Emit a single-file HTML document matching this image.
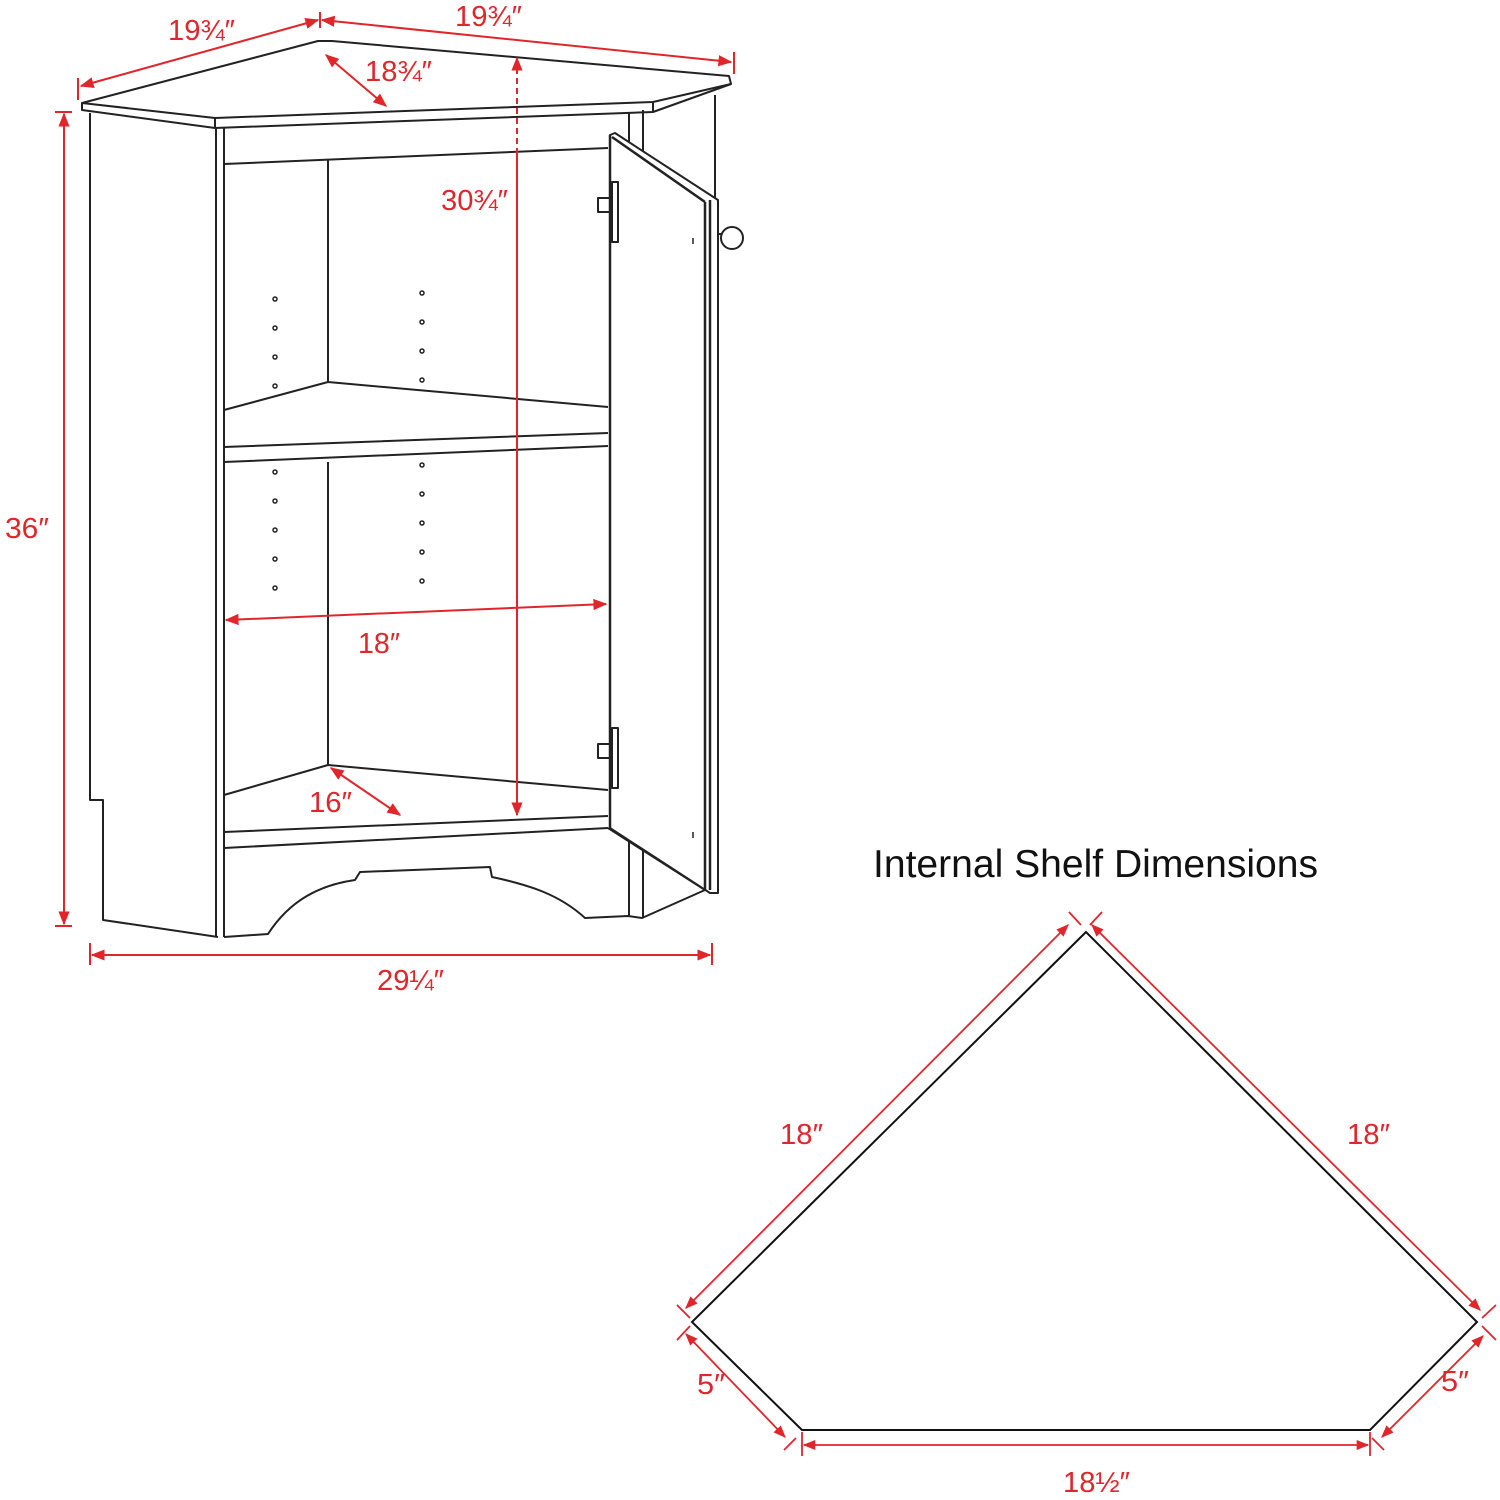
<!DOCTYPE html>
<html><head><meta charset="utf-8"><style>
html,body{margin:0;padding:0;background:#fff;}
svg{display:block}
text{font-family:"Liberation Sans Narrow","Liberation Sans",sans-serif;fill:#e0262b;}
</style></head><body>
<svg width="1500" height="1500" viewBox="0 0 1500 1500" xmlns="http://www.w3.org/2000/svg">
<defs>
<marker id="a" viewBox="0 0 10 10" refX="9" refY="5" markerWidth="7" markerHeight="7" orient="auto-start-reverse"><path d="M0,1 L10,5 L0,9 z" fill="#e0262b"/></marker>
</defs>
<g fill="none" stroke="#222" stroke-width="2" stroke-linejoin="round">
<!-- top -->
<path d="M82,103 L318,41 L332,41 L729,76 L731,84 L653,102 L215,118 Z" fill="#fff"/>
<path d="M82,103 L82,110 L215,128 L653,112 L731,84"/>
<path d="M215,118 L215,128 M653,102 L653,112"/>
<!-- left side -->
<path d="M90,113 L90,800 L103,800 L103,920 L218,937"/>
<path d="M216,128 L216,937 M224,128 L224,937"/>
<!-- top rail -->
<path d="M224,164 L608,148"/>
<path d="M328,160 L328,382"/>
<!-- shelf 1 -->
<path d="M224,410 L328,382 L608,407"/>
<path d="M224,447 L608,433 M224,462 L608,446"/>
<path d="M328,462 L328,765"/>
<!-- bottom shelf -->
<path d="M224,795 L328,765 L608,790"/>
<path d="M224,832 L608,816 M224,848 L608,828"/>
<!-- apron -->
<path d="M224,937 L268,934 C290,900 320,885 355,880 L360,872 L490,867 L492,877 C530,885 560,895 585,918 L628,916 L642,918 L705,890"/>
<path d="M629,112 L629,916 M643,110 L643,918 M715,95 L715,200"/>
<path d="M608,828 L705,890"/>
<!-- door -->
<path d="M610,135 L615,133 L718,200 L718,893 L710,893 L610,828 Z" fill="#fff"/>
<path d="M610,135 L610,828 M705,202 L705,890 M710,200 L710,890 M612,137 L705,202" stroke-width="2.5"/>
<rect x="612" y="182" width="6" height="60"/>
<rect x="598" y="198" width="14" height="14"/>
<rect x="612" y="728" width="6" height="60"/>
<rect x="598" y="744" width="14" height="14"/>
<circle cx="732" cy="238" r="11"/>
<path d="M718,234 L722,234"/>
</g>
<g fill="none" stroke="#222" stroke-width="1.5">
<circle cx="275" cy="299" r="2"/><circle cx="275" cy="328" r="2"/><circle cx="275" cy="357" r="2"/><circle cx="275" cy="386" r="2"/>
<circle cx="422" cy="293" r="2"/><circle cx="422" cy="322" r="2"/><circle cx="422" cy="351" r="2"/><circle cx="422" cy="380" r="2"/>
<circle cx="275" cy="472" r="2"/><circle cx="275" cy="501" r="2"/><circle cx="275" cy="530" r="2"/><circle cx="275" cy="559" r="2"/><circle cx="275" cy="588" r="2"/>
<circle cx="422" cy="465" r="2"/><circle cx="422" cy="494" r="2"/><circle cx="422" cy="523" r="2"/><circle cx="422" cy="552" r="2"/><circle cx="422" cy="581" r="2"/>
<path d="M693,238 L693,244 M693,832 L693,838"/>
</g>
<!-- red dims cabinet -->
<g stroke="#e0262b" stroke-width="2" fill="none">
<path d="M81,86 L318,20" marker-start="url(#a)" marker-end="url(#a)"/>
<path d="M322,20 L731,62" marker-start="url(#a)" marker-end="url(#a)"/>
<path d="M320,12 L320,28 M78,78 L78,100 M734,52 L734,74"/>
<path d="M326,55 L386,106" marker-start="url(#a)" marker-end="url(#a)"/>
<path d="M517,58 L517,150" stroke-dasharray="6,4" marker-start="url(#a)"/>
<path d="M517,150 L517,815" marker-end="url(#a)"/>
<path d="M64,114 L64,924" marker-start="url(#a)" marker-end="url(#a)"/>
<path d="M55,112 L72,112 M55,926 L72,926"/>
<path d="M226,620 L606,604" marker-start="url(#a)" marker-end="url(#a)"/>
<path d="M331,768 L400,815" marker-start="url(#a)" marker-end="url(#a)"/>
<path d="M92,955 L710,955" marker-start="url(#a)" marker-end="url(#a)"/>
<path d="M90,943 L90,965 M712,943 L712,965"/>
</g>
<g font-size="29">
<text x="168" y="40" textLength="67" lengthAdjust="spacingAndGlyphs">19¾″</text>
<text x="455" y="26" textLength="67" lengthAdjust="spacingAndGlyphs">19¾″</text>
<text x="365" y="81" textLength="67" lengthAdjust="spacingAndGlyphs">18¾″</text>
<text x="441" y="210" textLength="67" lengthAdjust="spacingAndGlyphs">30¾″</text>
<text x="5" y="538" textLength="44" lengthAdjust="spacingAndGlyphs">36″</text>
<text x="358" y="653" textLength="42" lengthAdjust="spacingAndGlyphs">18″</text>
<text x="309" y="812" textLength="43" lengthAdjust="spacingAndGlyphs">16″</text>
<text x="377" y="990" textLength="67" lengthAdjust="spacingAndGlyphs">29¼″</text>
</g>
<!-- shelf diagram -->
<text x="873" y="877" font-size="39" textLength="445" lengthAdjust="spacingAndGlyphs" style="fill:#111;font-family:'Liberation Sans',sans-serif">Internal Shelf Dimensions</text>
<path d="M1086,932 L692,1322 L802,1430 L1370,1430 L1477,1322 Z" fill="none" stroke="#111" stroke-width="2"/>
<g stroke="#e0262b" stroke-width="1.8" fill="none">
<path d="M686,1308 L1068,925" marker-start="url(#a)" marker-end="url(#a)"/>
<path d="M1092,925 L1480,1310" marker-start="url(#a)" marker-end="url(#a)"/>
<path d="M686,1334 L785,1437" marker-start="url(#a)" marker-end="url(#a)"/>
<path d="M1483,1336 L1382,1437" marker-start="url(#a)" marker-end="url(#a)"/>
<path d="M804,1445 L1368,1445" marker-start="url(#a)" marker-end="url(#a)"/>
<path d="M1069,912 L1081,925 M1102,912 L1090,925 M677,1305 L690,1318 M677,1340 L690,1326 M1496,1305 L1482,1318 M1496,1340 L1482,1326 M784,1450 L796,1438 M1384,1450 L1372,1438 M802,1432 L802,1456 M1370,1432 L1370,1456"/>
</g>
<g font-size="29">
<text x="780" y="1144" textLength="43" lengthAdjust="spacingAndGlyphs">18″</text>
<text x="1347" y="1144" textLength="43" lengthAdjust="spacingAndGlyphs">18″</text>
<text x="697" y="1394" textLength="28" lengthAdjust="spacingAndGlyphs">5″</text>
<text x="1441" y="1391" textLength="28" lengthAdjust="spacingAndGlyphs">5″</text>
<text x="1063" y="1492" textLength="67" lengthAdjust="spacingAndGlyphs">18½″</text>
</g>
</svg>
</body></html>
